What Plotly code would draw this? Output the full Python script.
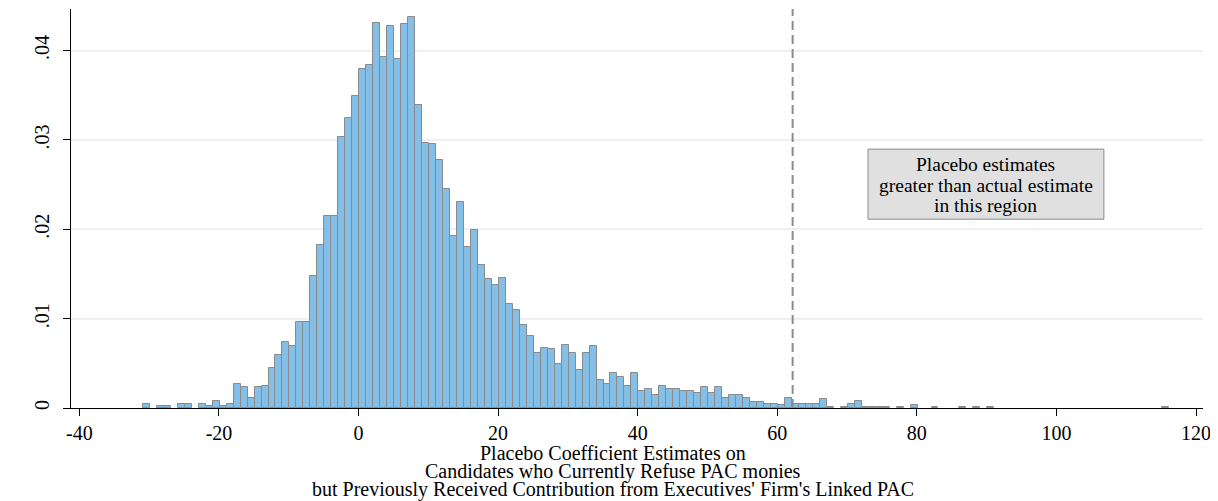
import plotly.graph_objects as go

# Histogram: bins of width 1, first bin starts at -30.9
bin_start = -30.9
bin_width = 1.0
density = [
    0.0004, 0, 0.0002, 0.0002, 0, 0.0005, 0.0004, 0, 0.0005, 0.0002,
    0.00075, 0.0002, 0.0005, 0.0027, 0.0023, 0.0011, 0.0023, 0.0025, 0.0045, 0.0059,
    0.0074, 0.0069, 0.0096, 0.0096, 0.0148, 0.0182, 0.0215, 0.0215, 0.0303, 0.0324,
    0.0349, 0.0379, 0.0384, 0.0431, 0.0393, 0.0427, 0.0391, 0.0430, 0.0438, 0.0339,
    0.0297, 0.0295, 0.0278, 0.0245, 0.0192, 0.0230, 0.0180, 0.0199, 0.0160, 0.0144,
    0.0138, 0.0146, 0.0116, 0.0110, 0.0093, 0.0081, 0.0061, 0.0067, 0.0066, 0.0049,
    0.0071, 0.0061, 0.0043, 0.0061, 0.0069, 0.0031, 0.0027, 0.0039, 0.0035, 0.0025,
    0.0039, 0.0019, 0.0021, 0.0014, 0.0025, 0.0021, 0.0021, 0.0019, 0.0019, 0.0017,
    0.0023, 0.0017, 0.0023, 0.0011, 0.0015, 0.0015, 0.0011, 0.00065, 0.00065, 0.00047,
    0.00047, 0.00036, 0.0011, 0.0005, 0.0004, 0.0005, 0.0004, 0.00097, 0.00015, 0,
    0.00015, 0.0004, 0.0008, 0.0001, 0.0001, 0.0001, 0.0001, 0, 0.0001, 0,
    0.0003, 0, 0, 0.0001, 0, 0, 0, 0.0001, 0, 0.0001,
    0, 0.0001, 0, 0, 0, 0, 0, 0, 0, 0,
    0, 0, 0, 0, 0, 0, 0, 0, 0, 0,
    0, 0, 0, 0, 0, 0, 0.0001,
]
bin_centers = [bin_start + bin_width * (i + 0.5) for i in range(len(density))]

actual_estimate = 62.2
x_ticks = [-40, -20, 0, 20, 40, 60, 80, 100, 120]
x_tick_text = ["-40", "-20", "0", "20", "40", "60", "80", "100", "120"]
y_ticks = [0, 0.01, 0.02, 0.03, 0.04]
y_tick_text = ["0", ".01", ".02", ".03", ".04"]
box_lines = ["Placebo estimates", "greater than actual estimate", "in this region"]
x_title_lines = [
    "Placebo Coefficient Estimates on",
    "Candidates who Currently Refuse PAC monies",
    "but Previously Received Contribution from Executives' Firm's Linked PAC",
]

FONT = "Liberation Serif, Times New Roman, serif"
FS = 20

# page has an 8px body margin: figure is drawn 8px right/down
W, H = 1210, 493
plot_top, plot_bottom = 1, 400  # in figure pixels
plot_left, plot_right = 63, 1195

fig = go.Figure()
fig.add_trace(go.Bar(
    x=bin_centers,
    y=[v if v > 0 else None for v in density],
    width=[bin_width] * len(density),
    marker=dict(color="#84bfe8", line=dict(color="#8a8a8a", width=1)),
    showlegend=False,
))

fig.add_shape(type="line", x0=actual_estimate, x1=actual_estimate, y0=0, y1=1,
              xref="x", yref="paper",
              line=dict(color="#8c8c8c", width=2, dash="9px,5px"))

# annotation box
fig.add_shape(type="rect", x0=73.0, x1=106.8, y0=0.02113, y1=0.02897,
              xref="x", yref="y", fillcolor="#e0e0e0",
              line=dict(color="#8a8a8a", width=1), layer="above")
for txt, yv in zip(box_lines, [0.02725, 0.02495, 0.02270]):
    fig.add_annotation(x=89.9, y=yv, xref="x", yref="y", text=txt,
                       showarrow=False, xanchor="center", yanchor="middle",
                       font=dict(family=FONT, size=19.5, color="black"))

ph = plot_bottom - plot_top
title_center = (605 - plot_left) / (plot_right - plot_left)
for line, ypx in zip(x_title_lines, [445, 463.5, 482]):
    fig.add_annotation(x=title_center, y=(plot_bottom - ypx) / ph,
                       xref="paper", yref="paper", text=line, showarrow=False,
                       xanchor="center", yanchor="middle",
                       font=dict(family=FONT, size=FS, color="black"))

fig.update_layout(
    width=W, height=H,
    margin=dict(l=plot_left, r=W - plot_right, t=plot_top, b=H - plot_bottom,
                autoexpand=False),
    paper_bgcolor="white", plot_bgcolor="white",
    bargap=0,
    font=dict(family=FONT, size=FS, color="black"),
    xaxis=dict(range=[-41.2, 121.0], tickvals=x_ticks, ticktext=x_tick_text,
               ticks="outside", ticklen=7,
               tickcolor="black", showline=True, linecolor="black", linewidth=1,
               showgrid=False, zeroline=False, tickfont=dict(size=FS)),
    yaxis=dict(range=[0, 0.04465], tickvals=y_ticks, ticktext=y_tick_text,
               tickangle=-90, ticks="outside", ticklen=7, tickcolor="black",
               ticklabelstandoff=6,
               showline=True, linecolor="black", linewidth=1,
               showgrid=True, gridcolor="#eaf0f3", gridwidth=1.5, zeroline=False,
               tickfont=dict(size=FS)),
)

fig.write_html("out.html")
